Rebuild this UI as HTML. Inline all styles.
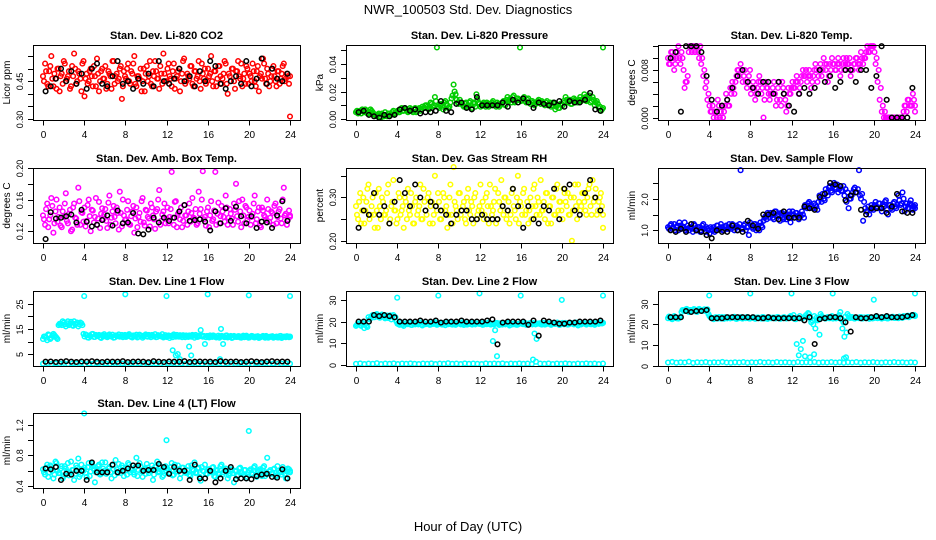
<!DOCTYPE html>
<html><head><meta charset="utf-8"><style>
html,body{margin:0;padding:0;background:#fff;}
svg{display:block;font-family:"Liberation Sans",sans-serif;}
</style></head><body>
<svg id="chart" width="936" height="540" viewBox="0 0 936 540">
<rect x="0" y="0" width="936" height="540" fill="#fff"/>
<text x="468" y="14" text-anchor="middle" font-size="13">NWR_100503  Std. Dev. Diagnostics</text>
<text x="468" y="531" text-anchor="middle" font-size="13">Hour of Day (UTC)</text>
</svg>
<script>
const xTicks = [0,4,8,12,16,20,24];

const co2 = [0.47,0.52,0.44,0.49,0.55,0.43,0.46,0.50,0.41,0.48,0.53,0.45,0.47,0.42,0.51,0.56,0.44,0.49,0.46,0.52,0.39,0.48,0.45,0.50,0.43,0.47,0.54,0.41,0.49,0.46,0.51,0.44,0.48,0.42,0.53,0.47,0.45,0.50,0.38,0.49,0.46,0.52,0.44,0.48,0.55,0.43,0.47,0.50,0.45,0.41,0.51,0.47,0.44,0.49,0.53,0.46,0.42,0.48,0.56,0.45,0.50,0.47,0.43,0.52,0.46,0.49,0.41,0.48,0.54,0.45,0.47,0.51,0.44,0.49,0.46,0.53,0.42,0.48,0.50,0.45,0.47,0.55,0.43,0.49,0.46,0.51,0.44,0.48,0.52,0.40,0.47,0.50,0.45,0.49,0.53,0.46,0.43,0.48,0.51,0.44,0.47,0.52,0.45,0.49,0.41,0.48,0.54,0.46,0.50,0.43,0.47,0.51,0.45,0.49,0.44,0.48,0.52,0.46,0.47,0.31];
const co2B = [.45,.49,.43,.51,.46,.48,.42,.50,.47,.44,.52,.46,.49,.43,.47,.50,.45,.48,.41,.53,.46,.44,.49,.47,.51,.43,.48,.45,.50,.46,.42,.49,.47,.53,.44,.48,.46,.51,.43,.47,.50,.45,.49,.52,.44,.47,.46,.41,.50,.48,.45,.53,.43,.47,.49,.46,.51,.44,.48,.45,.52,.46,.49,.42,.47,.50,.45,.53,.44,.48,.46,.51,.43,.49,.47,.45,.52,.46,.44,.50,.48,.45,.49,.43,.51,.47,.46,.53,.44,.48,.45,.50,.42,.49,.47,.52,.46,.44,.50,.48,.45,.49,.43,.51,.47,.46,.52,.44,.48,.45,.50,.47,.43,.49,.46,.51,.45,.48,.44,.47];
const co2Mean = [0.41,0.43,0.46,0.50,0.45,0.49,0.44,0.48,0.42,0.50,0.52,0.44,0.43,0.47,0.53,0.44,0.45,0.42,0.46,0.44,0.48,0.43,0.53,0.45,0.44,0.46,0.50,0.45,0.47,0.43,0.49,0.45,0.53,0.51,0.44,0.42,0.45,0.47,0.44,0.53,0.43,0.46,0.54,0.44,0.50,0.46,0.45,0.48];

const press = [.005,.004,.006,.007,.005,.006,.004,.007,.005,.003,.002,.004,.001,.003,.005,.002,.004,.003,.006,.004,.006,.005,.008,.006,.007,.005,.008,.006,.007,.005,.007,.006,.009,.008,.010,.007,.012,.009,.016,.052,.008,.011,.007,.013,.010,.009,.015,.025,.018,.012,.014,.011,.009,.012,.010,.013,.008,.011,.018,.012,.009,.011,.010,.012,.009,.011,.013,.010,.012,.009,.011,.013,.010,.016,.014,.012,.017,.013,.015,.052,.014,.016,.012,.015,.011,.013,.010,.012,.014,.011,.012,.010,.013,.011,.009,.012,.007,.010,.008,.011,.013,.016,.012,.014,.011,.015,.013,.012,.016,.014,.018,.013,.015,.012,.016,.010,.013,.008,.006,.052];
const pressB = [.006,.005,.004,.006,.007,.004,.005,.006,.004,.003,.003,.002,.004,.002,.003,.004,.003,.005,.004,.005,.005,.007,.006,.008,.006,.006,.007,.005,.008,.006,.008,.007,.008,.010,.009,.008,.011,.010,.013,.009,.010,.009,.012,.011,.008,.012,.017,.020,.014,.011,.012,.010,.011,.009,.012,.010,.012,.009,.014,.011,.010,.012,.009,.011,.010,.012,.011,.009,.011,.010,.012,.011,.014,.013,.015,.016,.012,.015,.014,.013,.015,.013,.014,.012,.013,.012,.011,.013,.012,.013,.011,.012,.010,.012,.010,.011,.009,.008,.011,.010,.012,.014,.013,.011,.013,.014,.012,.014,.013,.015,.016,.014,.017,.013,.014,.012,.011,.009,.007,.008];
const pressMean = [.005,.006,.003,.002,.001,.003,.002,.003,.007,.008,.006,.007,.004,.005,.005,.006,.013,.006,.005,.011,.012,.008,.007,.016,.010,.010,.010,.010,.012,.009,.014,.012,.015,.012,.008,.012,.011,.010,.012,.013,.009,.013,.012,.012,.014,.019,.007,.006];

const ltemp = [.010,.009,.011,.008,.010,.012,.009,.010,.005,.006,.011,.012,.012,.011,.012,.010,.009,.007,.005,.003,.002,.001,.000,.001,.003,.000,.002,.001,.004,.002,.005,.006,.004,.007,.008,.009,.006,.008,.005,.007,.004,.006,.003,.005,.007,.004,.000,.006,.005,.003,.004,.006,.002,.005,.003,.006,.004,.001,.005,.004,.006,.005,.007,.004,.006,.008,.007,.006,.008,.005,.007,.009,.006,.008,.007,.010,.008,.006,.009,.010,.009,.008,.010,.007,.009,.008,.010,.009,.007,.008,.009,.010,.008,.011,.009,.010,.012,.011,.012,.012,.009,.006,.003,.001,.000,.000,.000,.000,.000,.000,.000,.000,.000,.000,.002,.001,.003,.002,.004,.001];
const ltempB = [.009,.011,.010,.009,.011,.010,.011,.008,.006,.007,.012,.011,.012,.012,.011,.012,.010,.008,.006,.004,.001,.002,.001,.000,.002,.001,.000,.002,.003,.002,.004,.005,.006,.008,.007,.008,.007,.006,.006,.008,.005,.005,.004,.006,.006,.005,.003,.005,.004,.004,.005,.004,.003,.006,.002,.005,.003,.002,.004,.005,.005,.006,.006,.005,.007,.007,.008,.007,.007,.006,.008,.008,.007,.009,.008,.009,.009,.007,.008,.009,.008,.009,.009,.008,.010,.009,.009,.010,.008,.009,.010,.009,.009,.010,.010,.011,.011,.012,.012,.011,.010,.008,.005,.002,.001,.000,.000,.000,.000,.000,.000,.000,.000,.001,.002,.003,.002,.002,.003,.002];
const ltempMean = [.010,.011,.001,.012,.012,.012,.011,.007,.003,.001,.002,.003,.005,.007,.008,.006,.005,.004,.006,.006,.004,.006,.004,.002,.001,.004,.005,.004,.005,.008,.006,.007,.005,.006,.008,.008,.006,.008,.008,.005,.007,.012,.003,.000,.000,.000,.000,.005];

const boxT = [.140,.128,.155,.135,.162,.118,.145,.132,.150,.125,.138,.168,.130,.147,.122,.155,.136,.175,.128,.143,.150,.133,.160,.120,.146,.138,.128,.157,.142,.135,.148,.124,.165,.137,.152,.130,.143,.170,.126,.140,.135,.158,.128,.145,.118,.150,.138,.132,.162,.127,.146,.136,.155,.140,.123,.148,.172,.133,.145,.130,.150,.138,.195,.128,.158,.142,.135,.125,.153,.140,.145,.132,.162,.136,.128,.170,.148,.196,.138,.145,.125,.158,.135,.195,.142,.130,.152,.138,.165,.128,.148,.136,.155,.180,.132,.145,.160,.130,.150,.138,.128,.142,.165,.135,.150,.125,.146,.138,.160,.132,.145,.128,.155,.138,.148,.130,.175,.142,.135,.140];
const boxTB = [.135,.148,.125,.140,.152,.130,.160,.138,.127,.145,.155,.133,.142,.120,.150,.137,.128,.158,.144,.132,.126,.153,.139,.147,.131,.162,.136,.124,.149,.141,.133,.156,.128,.145,.138,.150,.122,.143,.160,.134,.147,.129,.139,.152,.136,.125,.143,.158,.131,.147,.138,.126,.150,.135,.145,.160,.128,.141,.155,.136,.130,.148,.137,.157,.125,.144,.150,.133,.140,.128,.155,.143,.137,.148,.130,.142,.160,.135,.127,.150,.140,.133,.146,.128,.156,.139,.145,.132,.150,.137,.142,.128,.147,.139,.158,.125,.140,.152,.134,.146,.138,.155,.130,.145,.127,.150,.140,.134,.148,.137,.143,.152,.130,.145,.136,.160,.140,.128,.146,.138];
const boxTMean = [.110,.144,.136,.137,.139,.141,.131,.147,.132,.126,.128,.134,.140,.127,.146,.130,.131,.143,.117,.116,.122,.137,.131,.137,.133,.137,.145,.153,.133,.134,.135,.132,.121,.145,.130,.149,.133,.151,.139,.130,.139,.124,.132,.131,.124,.140,.158,.133];

const rh = [.28,.25,.31,.27,.24,.29,.33,.26,.30,.23,.27,.32,.25,.29,.26,.31,.24,.28,.34,.27,.25,.30,.27,.23,.29,.32,.26,.28,.24,.30,.27,.33,.25,.29,.26,.31,.28,.24,.35,.27,.29,.25,.31,.27,.23,.30,.26,.37,.28,.25,.31,.27,.29,.24,.32,.26,.28,.30,.25,.27,.33,.29,.26,.31,.24,.28,.27,.32,.25,.29,.34,.26,.30,.27,.24,.31,.28,.25,.35,.29,.26,.32,.27,.24,.30,.28,.33,.26,.29,.34,.27,.25,.31,.28,.24,.30,.26,.33,.29,.27,.32,.29,.31,.26,.20,.30,.28,.33,.27,.31,.29,.26,.32,.28,.34,.30,.26,.29,.31,.23];
const rhB = [.26,.29,.24,.30,.27,.32,.25,.28,.26,.31,.23,.28,.30,.26,.27,.33,.25,.29,.27,.24,.31,.26,.28,.30,.25,.27,.31,.24,.29,.26,.28,.25,.32,.27,.30,.24,.29,.26,.28,.31,.25,.27,.30,.28,.26,.33,.24,.29,.27,.31,.26,.28,.25,.30,.27,.29,.24,.31,.26,.28,.27,.25,.30,.28,.33,.26,.29,.24,.31,.27,.28,.30,.25,.29,.26,.32,.27,.30,.24,.28,.31,.26,.29,.27,.25,.32,.28,.30,.26,.27,.29,.31,.24,.28,.30,.26,.32,.27,.29,.25,.31,.28,.26,.30,.27,.33,.25,.29,.28,.31,.27,.30,.33,.26,.29,.32,.27,.30,.28,.26];
const rhMean = [.23,.27,.26,.31,.26,.28,.24,.29,.34,.31,.28,.33,.30,.27,.29,.28,.27,.26,.24,.26,.27,.27,.25,.25,.26,.25,.25,.25,.28,.27,.32,.28,.23,.28,.25,.24,.28,.27,.32,.25,.32,.33,.27,.26,.31,.34,.30,.27];

const sflow = [1.1,1.15,1.05,1.2,1.1,1.0,1.15,1.1,1.25,1.05,1.0,1.1,0.95,1.15,1.05,1.1,1.0,1.2,0.95,1.05,0.9,1.05,1.1,1.0,1.15,1.05,1.1,1.0,1.15,1.05,1.1,1.2,1.0,1.15,1.1,2.9,1.05,1.2,1.1,0.85,1.15,1.05,1.2,1.1,1.0,1.15,1.3,1.45,1.55,1.4,1.5,1.35,1.6,1.45,1.3,1.55,1.4,1.35,1.5,1.25,1.6,1.4,1.55,1.35,1.45,1.5,1.8,1.7,1.9,1.75,1.7,1.8,1.65,2.1,1.9,2.0,2.3,2.1,2.4,2.2,2.5,2.3,2.2,2.4,2.25,2.1,1.9,1.7,2.0,2.2,2.35,2.2,2.9,2.0,1.3,1.7,1.6,1.5,1.8,1.65,1.9,1.7,1.85,1.6,1.75,1.95,1.5,1.8,1.65,1.9,1.7,2.1,1.8,2.2,1.6,1.85,1.7,1.95,1.65,1.8];
const sflowB = [1.05,1.2,1.1,1.0,1.15,1.25,1.05,1.1,1.0,1.15,1.1,1.05,1.2,1.0,1.1,0.95,1.15,1.05,1.1,1.0,1.1,1.0,0.95,1.15,1.05,1.2,1.0,1.1,1.05,1.2,1.05,1.15,1.1,1.0,1.2,1.05,1.15,1.0,1.1,1.25,1.1,1.2,1.0,1.15,1.25,1.1,1.4,1.35,1.5,1.55,1.4,1.6,1.45,1.5,1.55,1.35,1.5,1.45,1.6,1.4,1.5,1.55,1.45,1.5,1.6,1.4,1.75,1.85,1.8,1.7,1.85,1.75,1.9,2.0,2.15,1.95,2.2,2.35,2.25,2.4,2.35,2.45,2.3,2.25,2.4,2.3,2.2,2.0,2.1,2.3,2.2,2.3,2.1,2.15,1.9,1.6,1.75,1.65,1.7,1.8,1.75,1.85,1.7,1.8,1.9,1.65,1.8,1.7,1.85,1.75,1.8,1.95,1.85,2.0,1.75,1.7,1.85,1.8,1.75,1.7];
const sflowMean = [1.0,0.95,1.05,0.95,1.2,1.0,0.95,0.85,0.75,1.0,0.95,0.95,1.15,1.0,0.95,1.3,1.15,1.05,1.5,1.5,1.55,1.35,1.6,1.4,1.4,1.4,1.75,1.7,1.65,2.05,2.15,2.5,2.45,2.4,1.95,2.1,2.2,1.65,1.5,1.7,1.7,1.7,1.55,1.75,2.15,1.6,1.55,1.55];

const l1Band = [11,12,10.5,12.5,11.5,13,12,11,17,16.5,17.5,16,18,17,16.5,18,17,16,17.5,16.5,12,12.5,11.5,12,13,11.8,12.2,12.6,11.4,12,12.3,11.7,12.8,12,11.5,12.4,12.1,11.9,12.6,12.2,11.8,12.5,12,11.6,12.3,12.7,11.9,12.2,11.5,12.4,12,12.6,11.7,12.2,12.9,11.8,12.3,12,11.6,12.5,12.1,11.4,12.3,12.8,11.9,12,12.5,11.7,12.2,12.4,11.8,12.1,12.6,11.5,12,12.3,14.5,11.9,9,12.2,11.6,12,12.4,11.8,12.1,11.5,12.2,11.9,12.3,11.6,12,11.4,12.2,11.8,12.1,11.6,12,11.7,12.3,11.5,11.9,12.1,11.6,12,11.4,11.8,12.2,11.5,11.9,11.7,12,11.5,11.8,11.6,12.1,11.4,11.9,11.7,12,11.8];
const l1BandB = [12,11.5,12.8,11,12.2,12.5,11.5,16.5,17,18,16.8,17.2,16.5,17.8,16.2,17,17.5,16.8,17.2,13,12.8,11.6,12.4,12.9,11.8,12.6,12.2,11.7,12.5,12.9,11.9,12.4,12.1,12.7,11.6,12.3,12.8,12,11.7,12.6,12.2,12.9,11.8,12.4,12.1,11.6,12.7,12.3,12,12.8,11.9,12.2,12.6,12,11.7,12.5,12.2,12.9,12,11.8,12.4,12.1,11.7,12.3,12.6,11.9,12.2,12.5,11.7,12,12.4,11.9,12.3,12.6,11.8,12.1,12.4,12.2,11.7,12,12.4,11.8,12.2,11.6,12.3,11.9,12.1,11.7,12.4,11.8,12.2,11.6,12,11.8,12.1,11.5,12.3,11.8,12,11.6,12.2,11.7,11.9,12.1,11.6,12,11.8,12.2,11.5,11.9,12.1,11.7,12,11.6,12.2,11.8,11.9,12.1,11.7,12];
const l1Low = [1.2,1.4,1.1,1.3,1.2,1.5,1.1,1.3,1.2,1.4,1.0,1.3,1.2,1.4,1.1,1.3,1.2,1.5,1.2,1.3,1.1,1.4,1.2,1.3,1.1,1.2,1.4,1.3,1.2,1.1,1.3,1.4,1.2,1.3,1.1,1.2,1.4,1.3,1.2,1.1,1.3,1.2,1.4,1.2,1.3,1.1,1.2,1.4,1.3,1.2,1.1,1.3,1.2,1.4,1.2,1.3,1.1,1.2,1.3,1.2];
const l1OutHours = [4,8,12,16,20,24,12.6,12.9,13.1,13.3,14.2,14.4,17.2,17.3,17.5];
const l1OutVals = [28,28.7,28,28.7,28.3,28,6.5,4.5,5,3,8,4.5,3,15,9];
const l1Mean = [2,2.1,1.9,2,2.2,2,1.9,2.1,2,2.2,2,1.9,2.1,2,2,2.2,1.9,2,2.1,2,1.8,2.2,2,1.9,2.1,2,2,2.2,1.9,2,2.1,2,2,1.9,2.2,2,2,2.1,1.9,2,2.2,2,1.9,2.1,2.2,2,2.1,2];

const l2Band = [18,19,18.5,19.5,17,18,22,21.5,23,22,23.5,22,22.5,23,21.5,22.8,22,21,23,22,19,18.5,19.5,18,19.2,18.8,19.6,18.4,19,19.3,18.7,19.5,18.2,19.1,18.9,19.4,18.6,19,19.7,18.5,19.2,18.8,19.4,18.3,19,19.6,18.7,19.1,18.5,19.3,18.9,19.5,18.4,19.2,18.8,19.4,18.6,19,19.2,19.0,19,18.5,19.3,18.8,19.5,18.6,19.1,16,19.4,18.4,19,19.3,18.7,19.5,18.2,19.1,18.9,18.6,18.6,19.2,18.9,19.4,18.5,19,19.3,18.7,14.5,12,19.1,18.8,19.4,18.6,19,19.2,18.5,19.3,18.9,19.5,18.4,19.1,18.8,19.4,18.6,19,19.3,18.7,19.5,18.2,19.1,18.9,19.4,18.6,19.1,18.8,19.3,18.5,19.2,18.9,19.6,19.4];
const l2BandB = [18.5,19.2,18,19,18.7,17.5,21,22.5,22,23,22.3,21.8,23.2,22.6,22,21.6,22.9,22.4,21.8,20,18.8,19.4,18.6,19.1,18.9,19.5,18.5,19.2,18.7,19.3,19,18.6,19.4,18.8,19.1,18.5,19.3,18.9,19.2,18.7,19.4,18.6,19,19.3,18.8,19.5,18.6,19.1,18.9,19.4,18.7,19,19.3,18.6,19.2,18.8,19.5,18.7,19.1,18.9,19.3,18.6,19,19.4,18.8,19.1,18.7,19.3,18.9,19.2,18.6,19,19.4,18.8,19.1,18.7,19.3,18.5,19,19.2,18.8,19.4,18.6,19.1,18.9,19.3,18.7,19,19.2,18.6,19.4,18.8,19.1,18.7,19.3,18.9,19,19.2,18.6,19.4,18.8,19.1,18.7,19.3,18.9,19.5,18.8,19.2,18.7,19.4,18.9,19.1,19.3,18.8,19.5,19,19.2,19.6,19.1,19.4];
const l2Low = [0.5,0.7,0.4,0.6,0.5,0.8,0.4,0.6,0.5,0.7,0.4,0.6,0.5,0.7,0.5,0.4,0.6,0.5,0.7,0.4,0.6,0.5,0.8,0.5,0.6,0.4,0.7,0.5,0.6,0.5,0.4,0.7,0.5,0.6,0.5,0.7,0.4,0.6,0.5,0.7,0.5,0.6,0.4,1.5,0.6,0.5,0.7,0.4,0.6,0.5,0.7,0.5,0.4,0.6,0.5,0.7,0.5,0.6,0.4,0.6];
const l2OutHours = [4,8,12,13.3,13.7,16,17.2,20,24];
const l2OutVals = [31,32,33,11,4,32,2.5,30,32];
const l2Mean = [20,20,20,23,22.5,23,22.5,22,20,20,20,20,20.5,20,20,20.5,19.5,20,20,20,20.5,20,20,20,20,20.5,21,9.5,19.5,20,20,20,20,18.5,20.5,13.5,20.5,20,19.5,19,19,19.5,19.5,20,20,20,20,20.5];

const l3Band = [23,23.5,22.5,24,23,22.8,23.5,27,26.5,27.5,26,27,26.5,27.2,26,27.5,26.8,27,26.5,27.3,24,23,22.5,23.5,22.8,23.2,23.6,22.7,23.1,23.4,22.9,23.3,23.7,22.6,23,23.5,22.8,23.2,23.6,22.9,23.1,23.4,22.7,23.3,23,22.8,23.5,23.1,22.6,23.4,23,23.3,22.9,23.6,22.7,23.2,23.5,22.8,23.1,24,23.3,22.6,10.5,5,8,12,4.5,23.5,25,21,20,18,22,15,24,23.2,22.8,23.6,23,24,23.4,22.9,23.2,26,18,14,16,24,23.1,23.5,22.8,23.3,23,23.6,22.9,23.2,23.5,22.7,23.3,23,23.6,23,23.4,22.8,23.2,23.5,22.9,23.3,23.7,23.1,23.4,23,23.6,23.2,23.8,24,23.5,24.2,24.5,24];
const l3BandB = [23.8,22.8,23.2,23.6,22.9,23.3,26,26.8,27.2,26.4,27,26.6,27.4,26.2,26.9,27.1,26.5,27.3,26.7,25,23.4,22.9,23.3,23,23.6,22.8,23.2,23.5,22.9,23.3,23.1,23.6,22.8,23.2,23.4,22.9,23.3,23,23.5,22.8,23.2,23.4,22.9,23.3,23.1,23.6,22.8,23.2,23.4,23,23.3,22.9,23.5,23.1,22.8,23.4,23.2,23,23.6,23.1,24.5,22.5,23,24,22.8,23.5,24.5,25.5,23,22,24,23.2,22.5,25,23.6,22.9,23.4,23,23.5,22.8,23.3,23.6,24.5,22.5,21,23.8,25,23.2,23.6,22.9,23.3,23.1,23.5,22.8,23.4,23,23.6,23.2,22.9,23.5,23.1,23.4,23,23.6,23.2,22.9,23.5,23.3,23.7,23.1,23.5,23.8,23.3,24,23.6,24.2,23.9,24.4,24.6,24.3];
const l3Low = [1.5,1.8,1.4,1.6,1.5,1.9,1.3,1.6,1.5,1.7,1.4,1.6,1.5,1.8,1.5,1.4,1.6,1.5,1.7,1.4,1.6,1.5,1.8,1.5,1.6,1.4,1.7,1.5,1.6,1.5,1.4,1.7,1.5,1.6,1.5,1.7,1.4,1.6,1.5,1.7,1.5,1.6,1.4,1.6,1.5,1.7,1.4,1.6,1.5,1.7,1.5,1.4,1.6,1.5,1.7,1.5,1.6,1.4,1.6,1.5];
const l3OutHours = [4,8,12,16,20,24,13.8,14.2,17.1,17.3];
const l3OutVals = [34,35,35,35,32,35,4,5.5,3.5,4];
const l3Mean = [23.5,23.5,23.5,26.5,26,26.5,26.5,27,23,23,23,23.5,23.5,23.5,23.5,23.5,23.5,23,23,23.5,23,23,23,23,23,23,22,23.5,10.5,22.5,23,23.5,23.5,23,21,16.5,23.5,23,23,23.5,24,23.5,24,23.5,23.5,23.5,24,24.5];

const l4 = [.62,.55,.68,.58,.65,.50,.72,.60,.57,.66,.53,.63,.70,.58,.61,.48,.67,.76,.55,.62,.64,.52,.70,.59,.66,.45,.61,.68,.56,.63,.71,.58,.65,.50,.62,.74,.57,.60,.67,.53,.64,.70,.58,.62,.55,.77,.61,.66,.52,.63,.69,.57,.62,.48,.65,.72,.59,.61,.54,.66,.63,.58,.70,.55,.62,.67,.50,.64,.60,.57,.66,.53,.62,.71,.58,.64,.47,.60,.68,.56,.62,.59,.65,.52,.61,.55,.68,.58,.63,.50,.57,.62,.45,.59,.54,.64,.57,.61,.50,.58,.62,.55,.66,.52,.60,.57,.64,.53,.77,.59,.56,.62,.52,.66,.58,.55,.61,.50,.63,.60];
const l4B = [.58,.64,.52,.67,.60,.55,.70,.57,.63,.50,.66,.59,.54,.72,.61,.56,.64,.52,.68,.60,.57,.65,.53,.69,.62,.58,.66,.55,.71,.60,.56,.63,.58,.67,.54,.62,.69,.57,.64,.60,.55,.68,.61,.58,.65,.53,.70,.59,.62,.56,.64,.60,.67,.55,.61,.58,.66,.52,.63,.60,.57,.65,.54,.68,.59,.62,.56,.64,.58,.61,.55,.67,.60,.57,.63,.52,.65,.59,.56,.62,.58,.64,.53,.60,.57,.66,.55,.61,.59,.54,.62,.57,.60,.53,.63,.58,.55,.61,.52,.60,.57,.64,.55,.59,.62,.53,.66,.58,.56,.61,.57,.63,.54,.60,.58,.65,.56,.59,.62,.58];
const l4OutHours = [4,12,20];
const l4OutVals = [1.35,1.0,1.12];
const l4Mean = [.63,.62,.65,.48,.56,.55,.60,.60,.48,.71,.58,.58,.58,.68,.58,.60,.63,.67,.67,.60,.61,.61,.69,.65,.56,.65,.60,.60,.48,.68,.50,.50,.60,.45,.50,.60,.65,.49,.50,.50,.49,.53,.55,.56,.52,.51,.62,.50];

const NS = 'http://www.w3.org/2000/svg';
const svg = document.getElementById('chart');
function mk(tag, attrs, parent){ const e=document.createElementNS(NS,tag); for(const k in attrs) e.setAttribute(k,attrs[k]); (parent||svg).appendChild(e); return e; }

const colX = [43,356,668];
const rowTop = [45,168,291,413];
const boxH = 75, hourW = 247/24;

const panels = [
 {name:'co2', title:'Stan. Dev. Li-820 CO2', ylab:'Licor ppm', c:0,r:0, dom:[0.296,0.594], ticks:[.30,.35,.40,.45,.50,.55], labels:['0.30','','','0.45','',''], color:'#ff0000', series:[co2,co2B], outH:[], outV:[], mean:co2Mean},
 {name:'pressure', title:'Stan. Dev. Li-820 Pressure', ylab:'kPa', c:1,r:0, dom:[-0.0007,0.0538], ticks:[0,.01,.02,.03,.04,.05], labels:['0.00','','0.02','','0.04',''], color:'#00cd00', series:[press,pressB], outH:[], outV:[], mean:pressMean},
 {name:'li820-temp', title:'Stan. Dev. Li-820 Temp.', ylab:'degrees C', c:2,r:0, dom:[-0.0004,0.0122], ticks:[0,.002,.004,.006,.008,.010,.012], labels:['0.000','','','','0.008','',''], color:'#ff00ff', series:[ltemp,ltempB], outH:[], outV:[], mean:ltempMean},
 {name:'box-temp', title:'Stan. Dev. Amb. Box Temp.', ylab:'degrees C', c:0,r:1, dom:[0.105,0.20], ticks:[.12,.14,.16,.18,.20], labels:['0.12','','0.16','','0.20'], color:'#ff00ff', series:[boxT,boxTB], outH:[], outV:[], mean:boxTMean},
 {name:'rh', title:'Stan. Dev. Gas Stream RH', ylab:'percent', c:1,r:1, dom:[0.195,0.368], ticks:[.20,.25,.30,.35], labels:['0.20','','0.30',''], color:'#ffff00', series:[rh,rhB], outH:[], outV:[], mean:rhMean},
 {name:'sample-flow', title:'Stan. Dev. Sample Flow', ylab:'ml/min', c:2,r:1, dom:[0.6,2.97], ticks:[1.0,1.5,2.0,2.5], labels:['1.0','','2.0',''], color:'#0000ff', series:[sflow,sflowB], outH:[], outV:[], mean:sflowMean},
 {name:'line1-flow', title:'Stan. Dev. Line 1 Flow', ylab:'ml/min', c:0,r:2, dom:[0.3,30.0], ticks:[5,10,15,20,25], labels:['5','','15','','25'], color:'#00ffff', series:[l1Band,l1BandB,l1Low], outH:l1OutHours, outV:l1OutVals, mean:l1Mean},
 {name:'line2-flow', title:'Stan. Dev. Line 2 Flow', ylab:'ml/min', c:1,r:2, dom:[-0.5,34.1], ticks:[0,10,20,30], labels:['0','10','20','30'], color:'#00ffff', series:[l2Band,l2BandB,l2Low], outH:l2OutHours, outV:l2OutVals, mean:l2Mean},
 {name:'line3-flow', title:'Stan. Dev. Line 3 Flow', ylab:'ml/min', c:2,r:2, dom:[-0.2,36.2], ticks:[0,10,20,30], labels:['0','10','20','30'], color:'#00ffff', series:[l3Band,l3BandB,l3Low], outH:l3OutHours, outV:l3OutVals, mean:l3Mean},
 {name:'line4-flow', title:'Stan. Dev. Line 4 (LT) Flow', ylab:'ml/min', c:0,r:3, dom:[0.375,1.355], ticks:[.4,.6,.8,1.0,1.2], labels:['0.4','','0.8','','1.2'], color:'#00ffff', series:[l4,l4B], outH:l4OutHours, outV:l4OutVals, mean:l4Mean}
];

panels.forEach(p=>{
  const x0 = colX[p.c], top = rowTop[p.r], bot = top+boxH;
  const left = x0-10, right = x0+257;
  const xs = h => x0 + h*hourW;
  const ys = v => bot - (v-p.dom[0])/(p.dom[1]-p.dom[0])*boxH;
  const g = mk('g',{});
  
  
  const t = mk('text',{x:(left+right)/2, y:top-6, 'text-anchor':'middle','font-size':'11','font-weight':'bold'},g);
  t.textContent = p.title;
  
  
  const pts = mk('g',{fill:'none','stroke-width':'1.5'},g);
  
  
  p.series.forEach((arr,si)=>{
    const off = (si===1) ? 0.5 : 0;
    arr.forEach((v,i)=>{
      const h = Math.min(24, (i+off)*24/(arr.length-1));
      const c = mk('circle',{cx:xs(h).toFixed(1), cy:ys(v).toFixed(1), r:'2.3', stroke:p.color},pts);
      
      
    });
  });
  p.outH.forEach((h,i)=>{
    const c = mk('circle',{cx:xs(h).toFixed(1), cy:ys(p.outV[i]).toFixed(1), r:'2.3', stroke:p.color},pts);
    
    
  });
  p.mean.forEach((v,i)=>{
    const h = (i+0.5)*24/p.mean.length;
    const c = mk('circle',{cx:xs(h).toFixed(1), cy:ys(v).toFixed(1), r:'2.3', stroke:'#000'},pts);
    
    
  });
  const box = mk('rect',{x:left+0.5,y:top+0.5,width:right-left,height:boxH,fill:'none',stroke:'#000','stroke-width':'1'},g);
  
  
  const xa = mk('g',{},g);
  
  
  xTicks.forEach(h=>{
    const x = Math.round(xs(h))+0.5;
    mk('line',{x1:x,x2:x,y1:bot+0.5,y2:bot+5.5,stroke:'#000'},xa);
    const tl = mk('text',{x:x,y:bot+18,'text-anchor':'middle','font-size':'10'},xa);
    tl.textContent = String(h);
    
    
  });
  const ya = mk('g',{},g);
  
  
  p.ticks.forEach((v,i)=>{
    const y = Math.round(ys(v))+0.5;
    mk('line',{x1:left-5,x2:left+0.5,y1:y,y2:y,stroke:'#000'},ya);
    if(p.labels[i]){
      const tl = mk('text',{x:left-10,y:y,'text-anchor':'middle','font-size':'9',transform:`rotate(-90 ${left-10} ${y})`},ya);
      tl.textContent = p.labels[i];
      
      
    }
  });
  const yl = mk('text',{x:left-23,y:(top+bot)/2,'text-anchor':'middle','font-size':'10',transform:`rotate(-90 ${left-23} ${(top+bot)/2})`},g);
  yl.textContent = p.ylab;
  
  
});
</script>
</body></html>
